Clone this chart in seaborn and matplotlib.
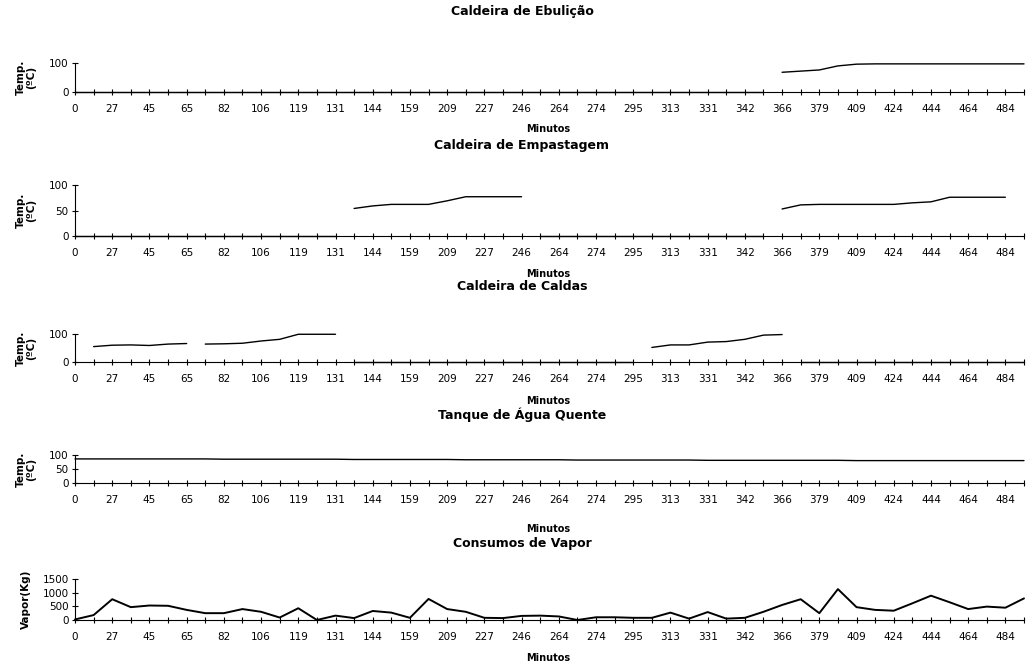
import matplotlib
matplotlib.use("Agg")
import matplotlib.pyplot as plt
import pandas as pd
import seaborn as sns

# Etiquetas do eixo dos tempos (uma em cada duas leituras)
rotulos_minutos = ["0", "27", "45", "65", "82", "106", "119", "131", "144", "159",
                   "209", "227", "246", "264", "274", "295", "313", "331", "342",
                   "366", "379", "409", "424", "444", "464", "484"]

# Caldeira de Ebulição: troços (leitura inicial, temperaturas ºC)
ebulicao_inicio = [0, 38]
ebulicao_temp = [
    [0, 0, 0, 0, 0, 0, 0, 0, 0, 0, 0, 0, 0, 0, 0, 0, 0, 0, 0,
     0, 0, 0, 0, 0, 0, 0, 0, 0, 0, 0, 0, 0, 0, 0, 0, 0, 0, 0],
    [68, 72, 76, 90, 96, 97, 97, 97, 97, 97, 97, 97, 97, 97],
]

# Caldeira de Empastagem
empastagem_inicio = [0, 15, 25, 38]
empastagem_temp = [
    [0, 0, 0, 0, 0, 0, 0, 0, 0, 0, 0, 0, 0, 0, 0],
    [54, 59, 62, 62, 62, 69, 77, 77, 77, 77],
    [0, 0, 0, 0, 0, 0, 0, 0, 0, 0, 0, 0, 0],
    [53, 61, 62, 62, 62, 62, 62, 65, 67, 76, 76, 76, 76],
]

# Caldeira de Caldas
caldas_inicio = [1, 7, 15, 31, 39]
caldas_temp = [
    [55, 60, 61, 59, 64, 66],
    [64, 65, 67, 75, 81, 99, 99, 99],
    [0, 0, 0, 0, 0, 0, 0, 0, 0, 0, 0, 0, 0, 0, 0, 0],
    [52, 61, 61, 71, 73, 81, 96, 98],
    [0, 0, 0, 0, 0, 0, 0, 0, 0, 0, 0, 0, 0],
]

# Tanque de Água Quente
tanque_inicio = [0]
tanque_temp = [
    [86, 86, 86, 86, 86, 86, 86, 86, 85, 85, 85, 85, 85, 85, 85, 84, 84, 84,
     84, 84, 84, 83, 83, 83, 83, 83, 83, 82, 82, 82, 82, 82, 82, 82, 81, 81,
     81, 81, 81, 81, 81, 81, 80, 80, 80, 80, 80, 80, 80, 80, 80, 80],
]

# Consumos de vapor (kg)
vapor_inicio = [0]
vapor_kg = [
    [20, 180, 760, 470, 530, 520, 370, 250, 250, 400, 300, 90, 430, 0, 160,
     70, 330, 270, 80, 770, 400, 300, 80, 70, 150, 160, 130, 0, 100, 100, 80,
     80, 270, 50, 290, 50, 80, 300, 550, 760, 250, 1130, 470, 370, 340, 610,
     890, 650, 400, 490, 450, 790],
]


def tabela(inicios, series):
    linhas = []
    for k, (i0, valores) in enumerate(zip(inicios, series)):
        for j, v in enumerate(valores):
            linhas.append({"leitura": i0 + j, "valor": v, "troco": k})
    return pd.DataFrame(linhas)


sns.set_style("white")
plt.rcParams["font.family"] = ["DejaVu Sans"]
plt.rcParams["text.color"] = "black"
plt.rcParams["axes.labelcolor"] = "black"
plt.rcParams["xtick.color"] = "black"
plt.rcParams["ytick.color"] = "black"

W, H = 1028, 663
fig = plt.figure(figsize=(W / 100, H / 100), dpi=100)

n_leituras = len(vapor_kg[0])

paineis = [
    # titulo, inicios, series, rotulo y, yticks, topo px, base px, y titulo, y "Minutos", lw
    ("Caldeira de Ebulição", ebulicao_inicio, ebulicao_temp, "Temp.\n(ºC)",
     [0, 100], 63, 92, 11, 129, 1.0),
    ("Caldeira de Empastagem", empastagem_inicio, empastagem_temp, "Temp.\n(ºC)",
     [0, 50, 100], 185, 236, 145, 274, 1.0),
    ("Caldeira de Caldas", caldas_inicio, caldas_temp, "Temp.\n(ºC)",
     [0, 100], 334, 362, 286, 401, 1.0),
    ("Tanque de Água Quente", tanque_inicio, tanque_temp, "Temp.\n(ºC)",
     [0, 50, 100], 455, 483, 415, 529, 1.0),
    ("Consumos de Vapor", vapor_inicio, vapor_kg, "Vapor(Kg)",
     [0, 500, 1000, 1500], 579, 620, 544, 658, 1.4),
]

x_esq, x_dir = 75, 1024

for titulo, inicios, series, rot_y, yticks, topo, base, y_tit, y_min, lw in paineis:
    ax = fig.add_axes([x_esq / W, 1 - base / H, (x_dir - x_esq) / W, (base - topo) / H])
    df = tabela(inicios, series)
    sns.lineplot(data=df, x="leitura", y="valor", units="troco", estimator=None,
                 color="black", lw=lw, ax=ax, legend=False, clip_on=False)
    ax.set_xlim(0, n_leituras - 1)
    ax.set_ylim(yticks[0], yticks[-1])
    ax.set_xticks(range(0, n_leituras, 2))
    ax.set_xticklabels(rotulos_minutos)
    ax.set_xticks(range(1, n_leituras, 2), minor=True)
    ax.set_yticks(yticks)
    ax.set_xlabel("")
    ax.set_ylabel("")
    for lado in ("top", "right"):
        ax.spines[lado].set_visible(False)
    for lado in ("left", "bottom"):
        ax.spines[lado].set_color("black")
        ax.spines[lado].set_linewidth(0.8)
    ax.tick_params(axis="x", which="both", bottom=True, direction="inout",
                   length=5, width=0.8, color="black", pad=6, labelsize=7.5,
                   labelcolor="black")
    ax.tick_params(axis="y", left=True, direction="inout", length=5, width=0.8,
                   color="black", pad=2, labelsize=7.5, labelcolor="black")
    ax.patch.set_alpha(0)

    fig.text(522 / W, 1 - y_tit / H, titulo, ha="center", va="center",
             fontsize=9, fontweight="bold", color="black")
    fig.text(548 / W, 1 - y_min / H, "Minutos", ha="center", va="center",
             fontsize=7, fontweight="bold", color="black")
    fig.text(26 / W, 1 - (topo + base) / 2 / H, rot_y, ha="center", va="center",
             rotation=90, fontsize=7.5, fontweight="bold", linespacing=1.0,
             color="black")

fig.savefig("out.png", dpi=100)
